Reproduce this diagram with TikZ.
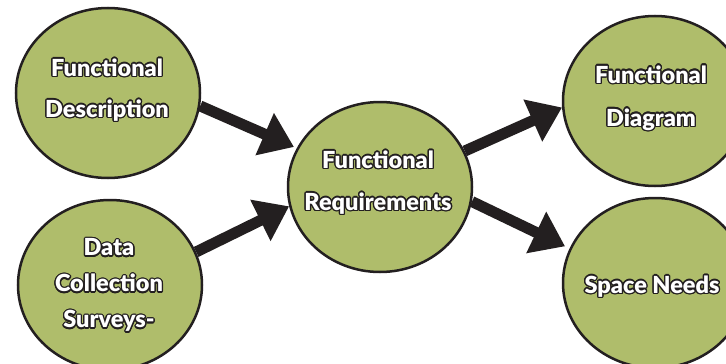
\documentclass[tikz,border=0pt]{standalone}
\usepackage{fontspec}
\setmainfont{Lato}[BoldFont={Lato Black}]
\usepackage{contour}
\usetikzlibrary{arrows.meta,shapes.geometric,backgrounds}
\definecolor{circfill}{RGB}{175,189,107}
\definecolor{ink}{RGB}{35,31,32}
\contourlength{1.3pt}
\newcommand{\otext}[1]{\contour{ink}{\textcolor{white}{#1}}}
\tikzset{
  bubble/.style={ellipse, draw=ink, line width=2.5pt, fill=circfill,
    minimum width=184pt, minimum height=170pt, inner sep=0pt},
  lbl/.style={align=center, inner sep=0pt, font=\fontsize{23.5}{#1}\selectfont\bfseries},
  flow/.style={draw=ink, line width=11pt, -{Triangle[length=32pt,width=44pt]}}
}
\begin{document}
\begin{tikzpicture}[x=1pt,y=-1pt]
\path[use as bounding box] (0,0) rectangle (726,364);
\node[bubble] (fd) at (108,93) {};
\node[bubble] (dc) at (110,285) {};
\node[bubble] (fr) at (380,187) {};
\node[bubble] (fg) at (655,101) {};
\node[bubble] (sn) at (655,283) {};
\node[lbl=41] (fdt) at (107,90.5) {\otext{Functional}\\\otext{Description}};
\node[lbl=36] (dct) at (109,286) {\otext{Data}\\\otext{Collection}\\\otext{Surveys-}};
\node[lbl=42] (frt) at (378,183) {\otext{Functional}\\\otext{Requirements}};
\node[lbl=43] (fgt) at (651,98.5) {\otext{Functional}\\\otext{Diagram}};
\node[lbl=23] (snt) at (652,287) {\otext{Space Needs}};
\begin{scope}[on background layer]
\fill[white] (0,0) rectangle (726,364);
\draw[flow, shorten >=3pt] (fd.-8) -- (fr.155.6);
\draw[flow] (dc.21) -- (fr.-168.4);
\draw[flow] (fr.23) -- (fg.184.3);
\draw[flow, shorten >=5pt] (fr.-9.8) -- (sn.158.2);
\end{scope}
\end{tikzpicture}
\end{document}
